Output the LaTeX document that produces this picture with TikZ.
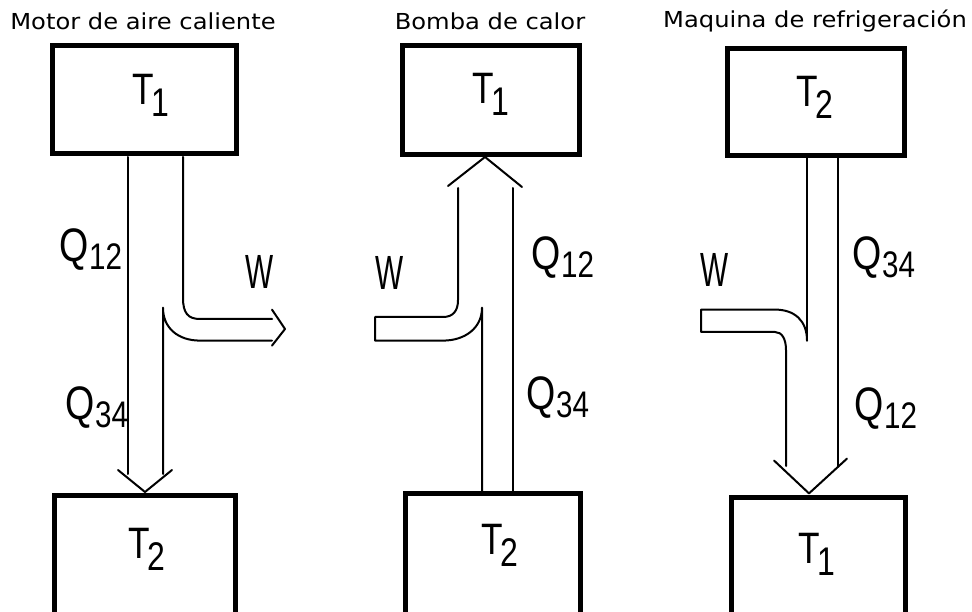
\documentclass[tikz,border=0pt]{standalone}
\usepackage{fontspec}
\setmainfont{Liberation Sans}
\newfontfamily\titlefont{DejaVu Sans}
\newcommand{\Tl}[1]{\scalebox{0.8}[1]{\fontsize{44}{44}\selectfont T\kern-3pt\raisebox{-12pt}{\fontsize{40}{40}\selectfont #1}}}
\newcommand{\Ql}[1]{\scalebox{0.8}[1]{\fontsize{47}{47}\selectfont Q\raisebox{-8pt}{\fontsize{37}{37}\selectfont #1}}}
\newcommand{\Wl}{\scalebox{0.62}[1]{\fontsize{48}{48}\selectfont W}}
\newcommand{\Ttl}[1]{\scalebox{1.1}[1]{#1}}
\begin{document}
\begin{tikzpicture}[x=1pt,y=-1pt,
  boxst/.style={draw, line width=5pt, inner sep=0pt},
  flow/.style={line width=2pt, line join=round, line cap=round},
  lbl/.style={inner sep=0pt},
  ttl/.style={font=\titlefont\fontsize{22}{22}\selectfont, inner sep=0pt}]
\clip (0,0) rectangle (972,612);
\fill[white] (0,0) rectangle (972,612);
% titles
\node[ttl] (ttl1) at (143,21) {\Ttl{Motor de aire caliente}};
\node[ttl] (ttl2) at (490,21) {\Ttl{Bomba de calor}};
\node[ttl] (ttl3) at (815,21) {\Ttl{Maquina de refrigeración}};
% boxes
\node[boxst, minimum width=184pt, minimum height=108.5pt] (b1t) at (144.5,99.75) {};
\node[boxst, minimum width=181pt, minimum height=250pt] (b1b) at (144.5,620.5) {};
\node[boxst, minimum width=177pt, minimum height=109pt] (b2t) at (491,100) {};
\node[boxst, minimum width=175pt, minimum height=250pt] (b2b) at (493,618.5) {};
\node[boxst, minimum width=177pt, minimum height=107pt] (b3t) at (816,102.5) {};
\node[boxst, minimum width=174pt, minimum height=250pt] (b3b) at (818.5,622) {};
% box labels
\node[lbl] (l1t) at (151,95) {\Tl{1}};
\node[lbl] (l1b) at (147,549) {\Tl{2}};
\node[lbl] (l2t) at (491,94) {\Tl{1}};
\node[lbl] (l2b) at (500,545) {\Tl{2}};
\node[lbl] (l3t) at (815,97) {\Tl{2}};
\node[lbl] (l3b) at (817,554) {\Tl{1}};
% panel 1 flow
\draw[flow] (128,157) -- (128,474);
\draw[flow] (183,157) -- (183,298) .. controls (183,313) and (188,319) .. (200,319) -- (272,319);
\draw[flow] (272,309.6) -- (285,329) -- (272,345.6);
\draw[flow] (272,340.6) -- (200,340.6) .. controls (178,340.6) and (163,328) .. (163,307.7) -- (163,474);
\draw[flow] (118,470) -- (145,492) -- (172,470);
% panel 2 flow
\draw[flow] (513,491) -- (513,188);
\draw[flow] (522,187) -- (485,157) -- (448,186);
\draw[flow] (458,188) -- (458,300) .. controls (458,311) and (453,317) .. (443,317) -- (375,317) -- (375,340.6) -- (443,340.6) .. controls (465,340.6) and (482,328) .. (482,307.7) -- (482,491);
% panel 3 flow
\draw[flow] (838,158) -- (838,466);
\draw[flow] (807,158) -- (807,340.6);
\draw[flow] (807,340.6) .. controls (807,321) and (795,309.6) .. (775,309.6) -- (701,309.6) -- (701,332) -- (775,332) .. controls (782,332) and (786,339) .. (786,350) -- (786,466);
\draw[flow] (774,460.5) -- (809,493.4) -- (847,458.6);
% flow labels
\node[lbl] (q1a) at (91,250) {\Ql{12}};
\node[lbl] (q1b) at (97,408) {\Ql{34}};
\node[lbl] (w1) at (260,272) {\Wl};
\node[lbl] (q2a) at (563,257.5) {\Ql{12}};
\node[lbl] (q2b) at (558,398) {\Ql{34}};
\node[lbl] (w2) at (390,273) {\Wl};
\node[lbl] (q3a) at (884,258) {\Ql{34}};
\node[lbl] (q3b) at (886,409) {\Ql{12}};
\node[lbl] (w3) at (715,270) {\Wl};
\end{tikzpicture}
\end{document}
